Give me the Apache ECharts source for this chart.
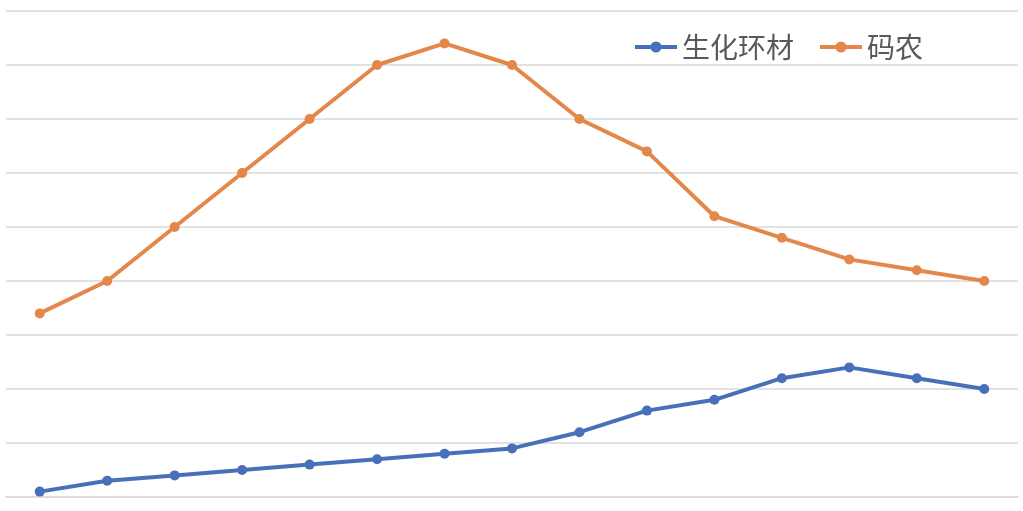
<!DOCTYPE html>
<html>
<head>
<meta charset="utf-8">
<script src="https://cdn.jsdelivr.net/npm/echarts@6/dist/echarts.min.js"></script>
<style>
    html, body {margin: 0; padding: 0; background: #fff;}
    #main {width: 1023px; height: 511px;}
</style>
</head>
<body>
<div id="main"></div>
<script>
    // 数据
    const categories = ['1', '2', '3', '4', '5', '6', '7', '8', '9', '10', '11', '12', '13', '14', '15'];
    const shenghua = [1, 3, 4, 5, 6, 7, 8, 9, 12, 16, 18, 22, 24, 22, 20];
    const manong = [34, 40, 50, 60, 70, 80, 84, 80, 70, 64, 52, 48, 44, 42, 40];

    const myChart = echarts.init(document.getElementById('main'));
    const option = {
        animation: false,
        color: ['#4870b8', '#e3884a'],
        grid: {left: 6, right: 5, top: 11, bottom: 14},
        legend: {
            data: ['生化环材', '码农'],
            left: 628,
            top: 28,
            itemWidth: 42,
            itemHeight: 14,
            itemGap: 24,
            lineStyle: {width: 4},
            textStyle: {
                fontSize: 28,
                color: '#595959',
                fontFamily: 'Noto Sans CJK SC'
            }
        },
        xAxis: {
            type: 'category',
            data: categories,
            boundaryGap: true,
            axisLine: {lineStyle: {color: '#d9d9d9', width: 1.5}},
            axisTick: {show: false},
            axisLabel: {show: false}
        },
        yAxis: {
            type: 'value',
            min: 0,
            max: 90,
            interval: 10,
            axisLabel: {show: false},
            axisLine: {show: false},
            axisTick: {show: false},
            splitLine: {lineStyle: {color: '#d9d9d9', width: 1.5}}
        },
        series: [{
            name: '生化环材',
            type: 'line',
            data: shenghua,
            symbol: 'circle',
            symbolSize: 10,
            lineStyle: {width: 4}
        }, {
            name: '码农',
            type: 'line',
            data: manong,
            symbol: 'circle',
            symbolSize: 10,
            lineStyle: {width: 4}
        }]
    };
    myChart.setOption(option);
</script>
</body>
</html>
